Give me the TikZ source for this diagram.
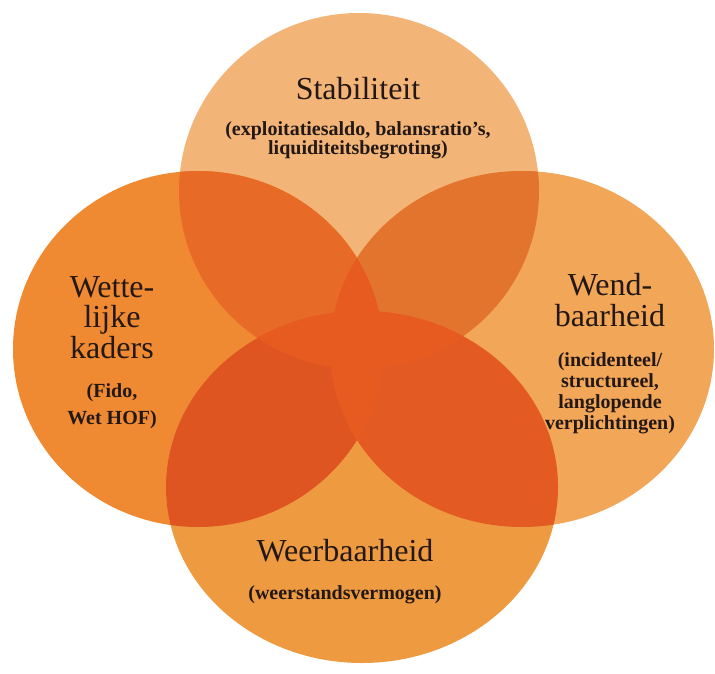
\documentclass[tikz,border=0pt]{standalone}
\usepackage{fontspec}
\setmainfont{Liberation Serif}
\usepackage{xcolor}
\definecolor{stabPeach}{HTML}{F3B478}
\definecolor{wetOrange}{HTML}{EF8A32}
\definecolor{wendOrange}{HTML}{F2A658}
\definecolor{weerOrange}{HTML}{EE9A40}
\definecolor{overlapTL}{HTML}{E86A27}
\definecolor{overlapTR}{HTML}{E3742E}
\definecolor{overlapBL}{HTML}{DE5521}
\definecolor{overlapBR}{HTML}{E35B22}
\definecolor{overlapMid}{HTML}{E85B20}
\definecolor{labelInk}{HTML}{231815}
\usetikzlibrary{positioning}
\tikzset{%
  titleText/.style={
    inner sep=0pt, align=center, text=labelInk,
    font=\fontsize{16}{15.25}\selectfont},
  subText/.style={
    inner sep=0pt, align=center, text=labelInk,
    font=\bfseries\fontsize{10}{10.5}\selectfont},
}
% the four circles (pixel units, y downwards)
\newcommand{\stabShape}{(359,191) ellipse [x radius=180, y radius=178]}
\newcommand{\wetShape}{(198,349) ellipse [x radius=185, y radius=178]}
\newcommand{\wendShape}{(522,349) ellipse [x radius=192, y radius=178]}
\newcommand{\weerShape}{(362,487) ellipse [x radius=196, y radius=176]}

\begin{document}
\begin{tikzpicture}[x=0.5pt, y=-0.5pt, node distance=10pt]
  \useasboundingbox (0,0) rectangle (715,673);

  \fill[stabPeach]  \stabShape;
  \fill[wetOrange]  \wetShape;
  \fill[wendOrange] \wendShape;
  \fill[weerOrange] \weerShape;

  % overlaps
  \begin{scope}
    \clip \stabShape;
    \fill[overlapTL] \wetShape;
    \fill[overlapTR] \wendShape;
  \end{scope}
  \begin{scope}
    \clip \weerShape;
    \fill[overlapBL] \wetShape;
    \fill[overlapBR] \wendShape;
  \end{scope}
  \begin{scope}
    \clip \wetShape;
    \fill[overlapMid] \wendShape;
  \end{scope}
  \begin{scope}
    \clip \stabShape;
    \fill[overlapMid] \weerShape;
  \end{scope}

  \node[titleText, anchor=south] (stab) at (358,100) {Stabiliteit};
  \node[subText, below=10.5pt of stab, font=\bfseries\fontsize{10}{9.75}\selectfont] (stabSub)
    {(exploitatiesaldo, balansratio's,\\liquiditeitsbegroting)};

  \node[titleText, anchor=south] (wet) at (112,359) {Wette-\\lijke\\kaders};
  \node[subText, below=12pt of wet, font=\bfseries\fontsize{10}{13.5}\selectfont] (wetSub)
    {(Fido,\\Wet HOF)};

  \node[titleText, anchor=south] (wend) at (610,327) {Wend-\\baarheid};
  \node[subText, below=12.5pt of wend] (wendSub)
    {(incidenteel/\\structureel,\\langlopende\\verplichtingen)};

  \node[titleText, anchor=south] (weer) at (345,562) {Weerbaarheid};
  \node[subText, below=11.5pt of weer] (weerSub) {(weerstandsvermogen)};
\end{tikzpicture}
\end{document}
